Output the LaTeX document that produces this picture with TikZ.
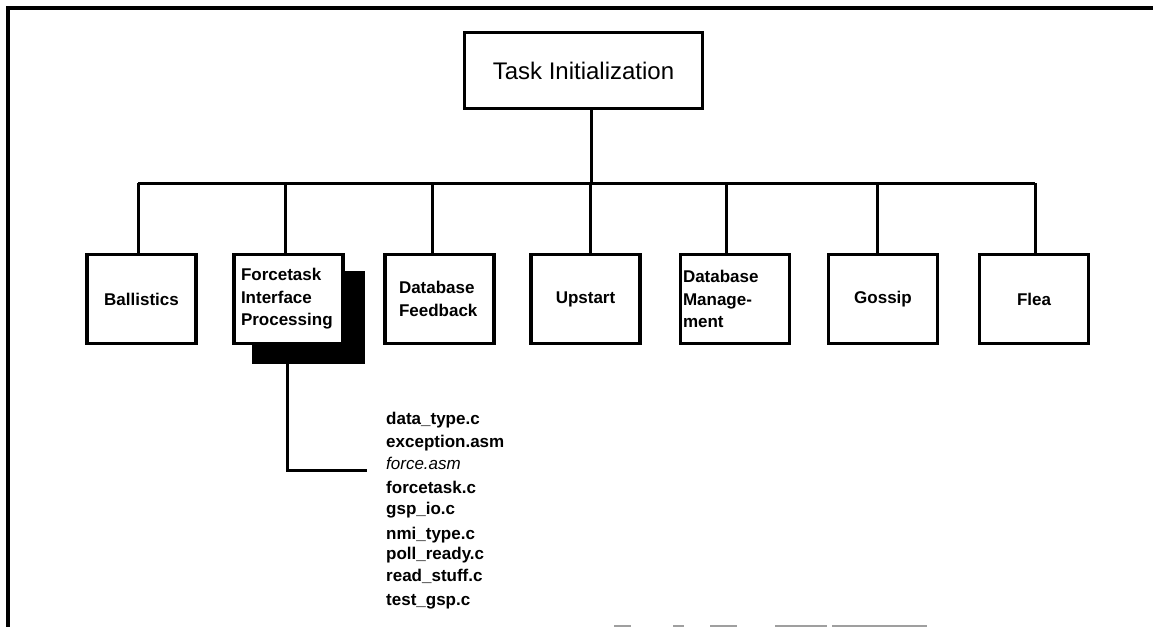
\documentclass[tikz,border=0pt]{standalone}
\usepackage{fontspec}
\setmainfont{Liberation Sans}
\begin{document}
\begin{tikzpicture}[x=1pt,y=-1pt,
  frameline/.style={line width=3.2pt},
  wire/.style={line width=3pt},
  unit/.style={draw, line width=3.4pt, fill=white, minimum width=109pt,
    minimum height=89pt, inner sep=0pt,
    font=\bfseries\fontsize{17}{22.5}\selectfont},
  shade/.style={fill=black, minimum width=113pt, minimum height=93pt, inner sep=0pt},
  top/.style={draw, line width=3.4pt, minimum width=238pt, minimum height=76pt,
    inner sep=0pt, font=\fontsize{24}{28}\selectfont},
  filename/.style={anchor=base west, inner sep=0pt,
    font=\bfseries\fontsize{17}{20}\selectfont},
  scanline/.style={gray!75, line width=2pt}]

\useasboundingbox (0,0) rectangle (1153,627);

% outer frame (top and left edges)
\draw[frameline] (1153,8) -- (8,8) -- (8,627);

% root module
\node[top] (task) at (583.5,70.5) {Task Initialization};

% bus and junctions
\coordinate (j0) at (591,183);
\coordinate (busL) at (138,183);
\coordinate (busR) at (1035,183);
\draw[wire] (task.south -| j0) -- (j0);
\draw[wire] (busL) -- (busR);

% shadow behind the highlighted module
\node[shade] (fpsh) at (308,317.5) {};

% second-level modules
\node[unit] (bal) at (141.5,299) {Ballistics};
\node[unit, align=left, inner xsep=7pt, text width=95pt] (fip) at (288.5,299)
  {Forcetask\\Interface\\Processing};
\node[unit, align=left, inner xsep=14pt, text width=81pt] (dbf) at (439.5,299)
  {Database\\Feedback};
\node[unit] (ups) at (585.5,299) {Upstart};
\node[unit, align=left, inner xsep=2.5pt, text width=104pt] (dbm) at (735,299)
  {Database\\Manage-\\ment};
\node[unit] (gos) at (883,299) {Gossip};
\node[unit] (fle) at (1034,299) {Flea};

% drops from the bus
\foreach \n/\x in {bal/138, fip/285, dbf/432, ups/590, dbm/726, gos/877, fle/1035}
  \draw[wire] (\x,183) -- (\n.north -| \x,0);

% source file list
\coordinate (fdrop) at (287,470);
\coordinate (fend) at (367,470);
\draw[wire] (fpsh.south -| fdrop) -- (fdrop) -- (fend);
\foreach \i/\y/\t in {1/424/data\_type.c, 2/447/exception.asm,
    3/469/{\mdseries\itshape force.asm}, 4/493/forcetask.c, 5/514/gsp\_io.c,
    6/539/nmi\_type.c, 7/559/poll\_ready.c, 8/581/read\_stuff.c, 9/605/test\_gsp.c}
  \node[filename] (f\i) at (386,\y) {\t};

% faint rule at the lower edge
\foreach \a/\b in {614/631, 673/684, 710/737, 775/827, 832/927}
  \draw[scanline] (\a,625.5) -- (\b,625.5);
\end{tikzpicture}
\end{document}
